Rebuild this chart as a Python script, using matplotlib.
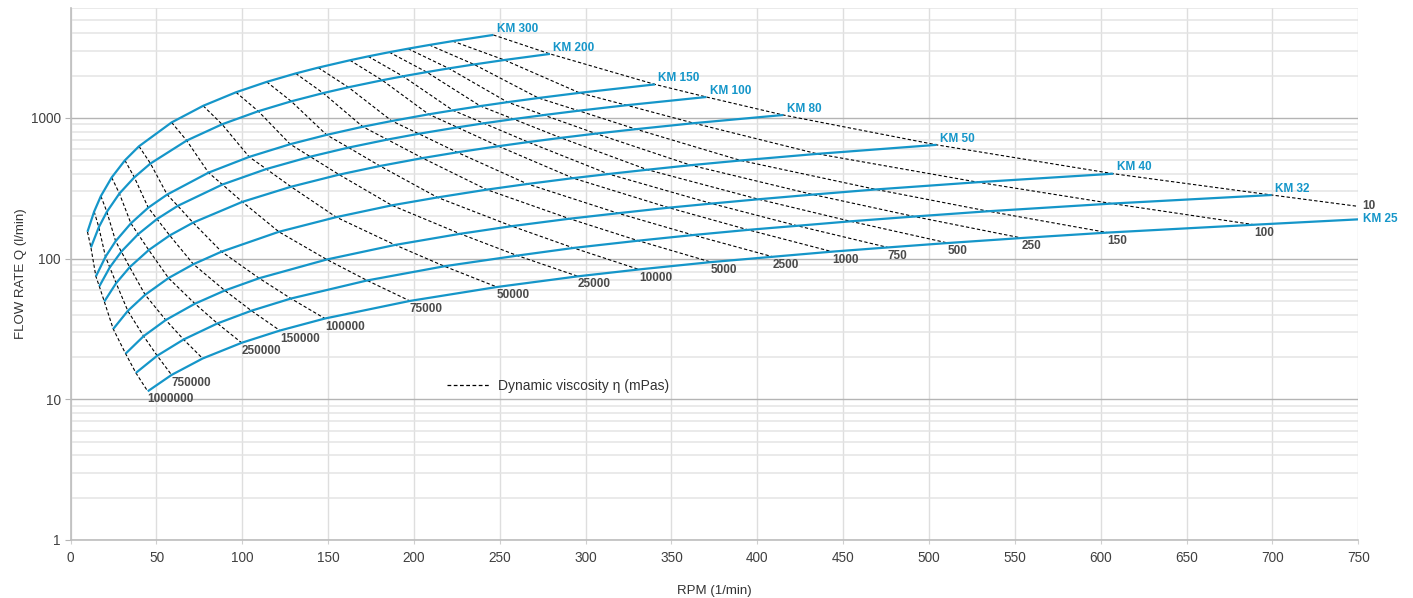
import matplotlib
matplotlib.use("Agg")
import matplotlib.pyplot as plt
from matplotlib.ticker import FixedLocator, NullFormatter, LogLocator

plt.rcParams['font.family'] = ['Liberation Sans', 'DejaVu Sans']

# Viscosity of each dashed iso-line (mPas); same order as the points of each pump curve
viscosity = [10, 100, 150, 250, 500, 750, 1000, 2500, 5000, 10000, 25000,
             50000, 75000, 100000, 150000, 250000, 500000, 750000, 1000000]
viscosity_labels = ['10', '100', '150', '250', '500', '750', '1000', '2500', '5000',
                    '10000', '25000', '50000', '75000', '100000', '150000',
                    '250000', '', '750000', '1000000']

# Pump curves: rpm and flow rate at each viscosity line
km300_rpm = [246.2, 222.5, 208.9, 196.5, 185.6, 173.3, 162.7, 144.2, 131.1, 114.2, 96.3, 77.2, 58.8, 39.8, 31.6, 23.9, 17.6, 13.7, 9.8]
km300_q = [3885, 3511, 3296, 3101, 2929, 2735, 2567, 2275, 2069, 1802, 1520, 1218, 928, 628, 499, 377, 278, 216, 155]

km200_rpm = [279.2, 252.7, 235.0, 220.3, 207.4, 193.6, 181.5, 161.8, 147.1, 128.5, 109.3, 88.2, 67.6, 46.5, 37.1, 28.4, 21.1, 16.4, 11.8]
km200_q = [2848, 2578, 2397, 2247, 2115, 1975, 1851, 1650, 1500, 1311, 1115, 900, 690, 474, 378, 290, 215, 167, 120]

km150_rpm = [340.4, 296.4, 272.5, 254.5, 238.7, 222.7, 208.6, 187.1, 170.2, 149.1, 127.9, 104.0, 80.3, 56.2, 45.2, 35.1, 26.2, 20.3, 14.7]
km150_q = [1729, 1506, 1384, 1293, 1213, 1131, 1060, 950, 865, 757, 650, 528, 408, 285, 230, 178, 133, 103, 74.7]

km100_rpm = [370.3, 323.8, 295.9, 275.6, 258.0, 240.7, 225.3, 202.8, 184.5, 161.9, 139.6, 114.0, 88.4, 62.4, 50.3, 39.3, 29.5, 22.8, 16.7]
km100_q = [1407, 1230, 1124, 1047, 980, 915, 856, 771, 701, 615, 530, 433, 336, 237, 191, 149, 112, 86.6, 63.5]

km80_rpm = [415.1, 363.0, 329.3, 306.0, 285.6, 266.5, 249.2, 225.2, 205.0, 180.2, 156.4, 128.4, 100.0, 71.3, 57.7, 45.5, 34.4, 26.5, 19.6]
km80_q = [1048, 917, 831, 773, 721, 673, 629, 569, 518, 455, 395, 324, 253, 180, 146, 115, 86.9, 66.9, 49.5]

km50_rpm = [504.4, 435.0, 390.3, 361.2, 336.0, 313.3, 292.7, 266.1, 242.4, 213.7, 187.1, 154.7, 121.3, 87.9, 71.5, 57.0, 43.4, 33.3, 24.8]
km50_q = [643, 555, 498, 461, 428, 399, 373, 339, 309, 272, 239, 197, 155, 112, 91.2, 72.7, 55.3, 42.5, 31.6]

km40_rpm = [607.3, 528.4, 469.1, 432.4, 400.7, 373.4, 348.4, 318.8, 290.6, 257.0, 226.9, 189.0, 149.2, 109.8, 89.8, 72.4, 55.4, 42.5, 32.0]
km40_q = [401, 349, 310, 285, 264, 246, 230, 210, 192, 170, 150, 125, 98.5, 72.5, 59.3, 47.8, 36.6, 28.1, 21.1]

km32_rpm = [699.6, 606.6, 534.6, 491.4, 454.3, 423.3, 394.7, 362.6, 330.6, 292.9, 260.2, 217.7, 172.7, 128.3, 105.3, 85.5, 65.8, 50.4, 38.0]
km32_q = [283, 246, 217, 199, 184, 171, 160, 147, 134, 119, 105, 88.2, 69.9, 52.0, 42.6, 34.6, 26.6, 20.4, 15.4]

# KM 25: first point is the end of the curve at 750 rpm (the 10 mPas line lies beyond it)
km25_rpm = [750.0, 689.5, 604.0, 554.0, 511.0, 476.0, 443.5, 409.0, 373.0, 331.0, 295.5, 248.3, 197.6, 148.1, 121.9, 99.6, 76.9, 58.8, 44.9]
km25_q = [190, 174, 153, 140, 129, 120, 112, 103, 94.4, 83.7, 74.8, 62.8, 50.0, 37.5, 30.8, 25.2, 19.5, 14.9, 11.4]

# the 10 mPas line leaves the chart at 750 rpm
visc10_end_rpm = 750
visc10_end_q = 235

models = ['KM 300', 'KM 200', 'KM 150', 'KM 100', 'KM 80', 'KM 50', 'KM 40', 'KM 32', 'KM 25']
model_rpm = [km300_rpm, km200_rpm, km150_rpm, km100_rpm, km80_rpm, km50_rpm, km40_rpm, km32_rpm, km25_rpm]
model_q = [km300_q, km200_q, km150_q, km100_q, km80_q, km50_q, km40_q, km32_q, km25_q]

blue = '#1596c9'
label_grey = '#4a4a4a'

fig = plt.figure(figsize=(14.13, 5.98), dpi=100)
ax = fig.add_axes([0.05, 0.097, 0.9112, 0.889])

# Dashed viscosity lines
for j, eta in enumerate(viscosity):
    if j == 0:
        xs = [r[0] for r in model_rpm[:-1]] + [visc10_end_rpm]
        ys = [q[0] for q in model_q[:-1]] + [visc10_end_q]
    else:
        xs = [r[j] for r in model_rpm]
        ys = [q[j] for q in model_q]
    ax.plot(xs, ys, color='black', lw=0.8, linestyle=(0, (3, 2)), zorder=3)
    if viscosity_labels[j]:
        if j == 0:
            ax.annotate(viscosity_labels[j], xy=(xs[-1], ys[-1]), xytext=(3, 0),
                        textcoords='offset points', ha='left', va='center',
                        fontsize=8.5, fontweight='bold', color=label_grey,
                        annotation_clip=False)
        else:
            ax.annotate(viscosity_labels[j], xy=(xs[-1], ys[-1]), xytext=(0, -1.5),
                        textcoords='offset points', ha='left', va='top',
                        fontsize=8.5, fontweight='bold', color=label_grey)

# Pump curves
for name, r, q in zip(models, model_rpm, model_q):
    ax.plot(r, q, color=blue, lw=1.6, zorder=4, solid_capstyle='butt')
    if name == 'KM 25':
        ax.annotate(name, xy=(r[0], q[0]), xytext=(3.5, 0), textcoords='offset points',
                    ha='left', va='center', fontsize=8.5, fontweight='bold', color=blue,
                    annotation_clip=False)
    else:
        ax.annotate(name, xy=(r[0], q[0]), xytext=(2.5, 4.5), textcoords='offset points',
                    ha='left', va='center', fontsize=8.5, fontweight='bold', color=blue)

# Legend
legend_line, = ax.plot([], [], color='black', lw=0.9, linestyle=(0, (3, 2)))
ax.legend([legend_line], ['Dynamic viscosity \u03b7 (mPas)'], loc='center left',
          bbox_to_anchor=(0.2922, 0.2897), frameon=False, borderpad=0,
          borderaxespad=0, handlelength=3.1, handletextpad=0.55,
          prop={'size': 10}, labelcolor='#333333')

# Axes
ax.set_yscale('log')
ax.set_xlim(0, 750)
ax.set_ylim(1, 6000)
ax.set_xticks(range(0, 751, 50))
ax.yaxis.set_major_locator(FixedLocator([1, 10, 100, 1000]))
ax.set_yticklabels(['1', '10', '100', '1000'])
ax.yaxis.set_minor_locator(LogLocator(base=10, subs=range(2, 10), numticks=20))
ax.yaxis.set_minor_formatter(NullFormatter())

ax.set_axisbelow(True)
ax.grid(True, which='major', axis='y', color='#b4b4b4', lw=1.0)
ax.grid(True, which='minor', axis='y', color='#e4e4e4', lw=1.1)
ax.grid(True, which='major', axis='x', color='#dedede', lw=1.0)

for side in ['top', 'right']:
    ax.spines[side].set_visible(False)
for side in ['left', 'bottom']:
    ax.spines[side].set_color('#bdbdbd')
    ax.spines[side].set_linewidth(1.2)

ax.tick_params(axis='y', which='major', length=4, color='#b4b4b4', labelsize=9.8,
               labelcolor='#404040', pad=3)
ax.tick_params(axis='y', which='minor', length=0)
ax.tick_params(axis='x', which='major', length=3, color='#cfcfcf', labelsize=9.8,
               labelcolor='#404040', pad=5)

ax.set_xlabel('RPM (1/min)', fontsize=9.5, color='#333333')
ax.set_ylabel('FLOW RATE Q (l/min)', fontsize=9.5, color='#333333')
ax.xaxis.set_label_coords(0.5, -0.085)
ax.yaxis.set_label_coords(-0.034, 0.5)

fig.savefig('out.png', dpi=100)
